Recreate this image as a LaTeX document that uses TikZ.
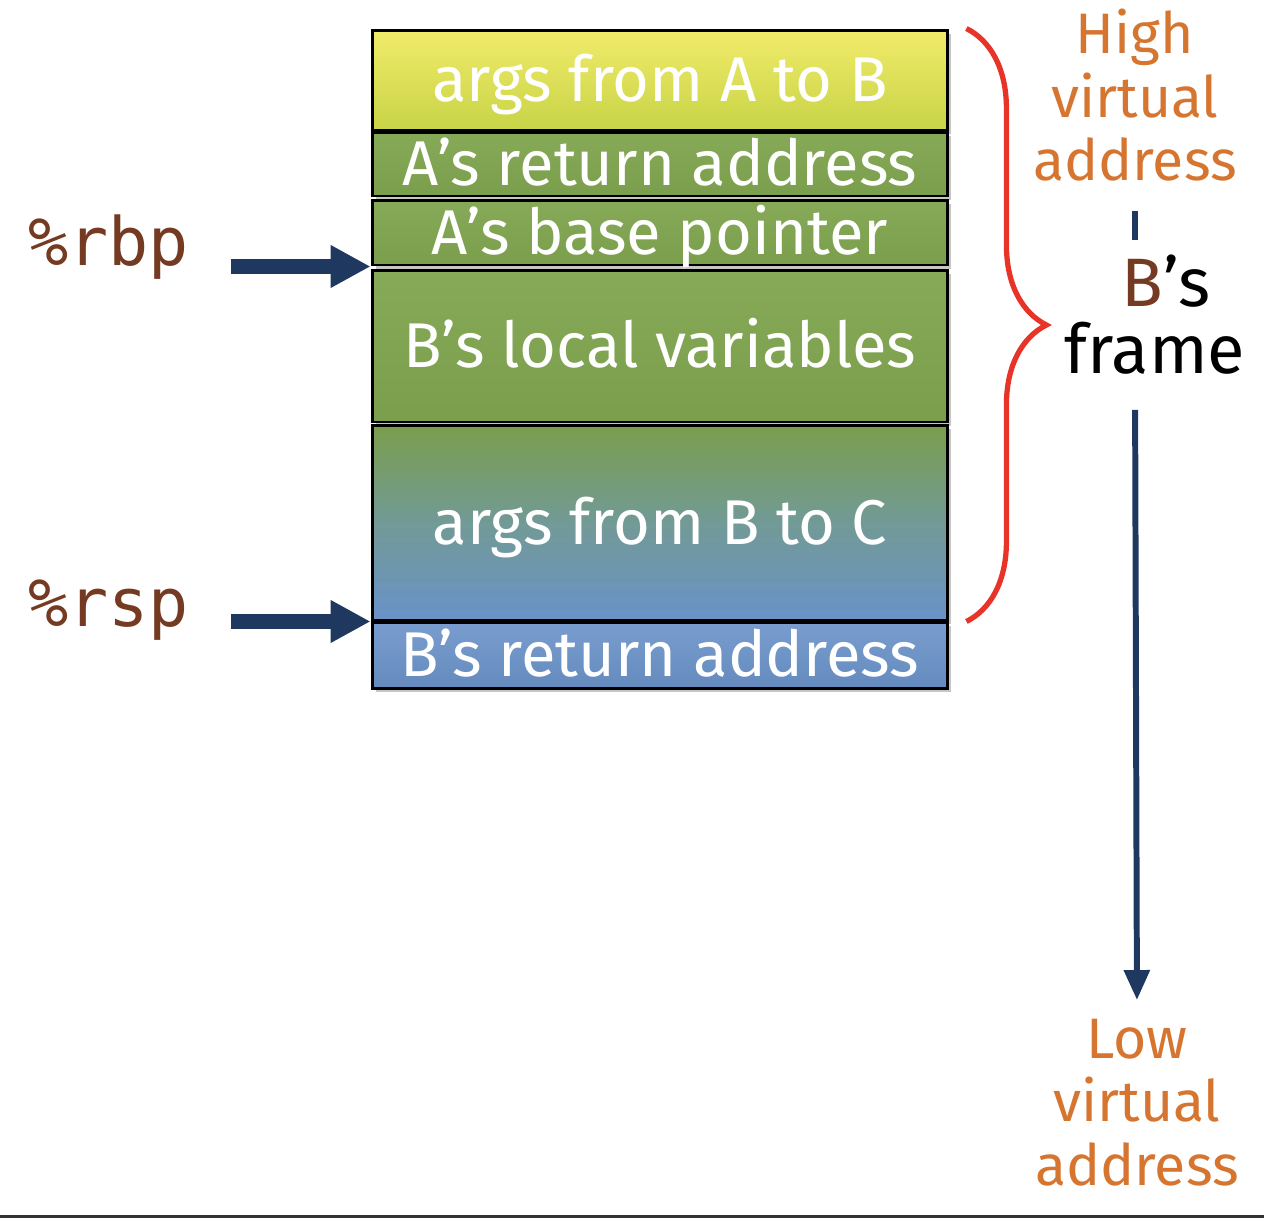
\documentclass[tikz,border=0pt]{standalone}
\usepackage{fontspec}
\setmainfont{Fira Sans}
\setmonofont{DejaVu Sans Mono}
\usepackage{xcolor}
\usetikzlibrary{arrows.meta,positioning,decorations.pathreplacing,shadows}
\definecolor{addrorange}{RGB}{214,117,48}
\definecolor{regbrown}{RGB}{116,58,34}
\definecolor{ptrnavy}{RGB}{31,56,96}
\definecolor{framered}{RGB}{232,52,40}
\definecolor{argyellow}{RGB}{241,235,106}
\definecolor{argyellowdk}{RGB}{200,212,70}
\definecolor{slotgreen}{RGB}{122,158,76}
\definecolor{slotgreenlt}{RGB}{134,170,88}
\definecolor{slotteal}{RGB}{114,154,150}
\definecolor{slotblue}{RGB}{106,146,200}
\definecolor{rulegray}{RGB}{50,50,50}

\begin{document}
\begin{tikzpicture}[x=0.02cm,y=-0.02cm,
  slot/.style={draw=black,line width=1.7pt,minimum width=11.52cm,inner sep=0pt,
    text=white,font=\fontsize{36}{44}\selectfont,text height=24.8pt,text depth=0pt,
    drop shadow={shadow xshift=2pt,shadow yshift=-2.5pt,opacity=0.45}},
  reg/.style={font=\ttfamily\fontsize{38}{44}\selectfont,text=regbrown,inner sep=0pt,anchor=base west},
  ptr/.style={-{Triangle[length=0.8cm,width=0.8cm]},line width=8pt,draw=ptrnavy},
  addr/.style={align=center,inner sep=0pt,anchor=north,text=addrorange,font=\fontsize{32.5}{36}\selectfont},
  growline/.style={line width=3.4pt,draw=ptrnavy},
  bracedec/.style={decorate,decoration={brace,amplitude=1.6cm},line width=3pt,draw=framered}]
\useasboundingbox (0,0) rectangle (1264,1218);
% stack slots
\node[slot,minimum height=2cm,top color=argyellow,bottom color=argyellowdk] (argsab) at (660,80) {args from A to B};
\node[slot,minimum height=1.28cm,top color=slotgreenlt,bottom color=slotgreen] (aret) at (660,164) {A's return address};
\node[slot,minimum height=1.3cm,top color=slotgreenlt,bottom color=slotgreen] (abase) at (660,232.5) {A's base pointer};
\node[slot,minimum height=3.04cm,top color=slotgreenlt,bottom color=slotgreen] (blocal) at (660,346) {B's local variables};
\node[slot,minimum height=3.9cm,top color=slotgreen,bottom color=slotblue,middle color=slotteal] (argsbc) at (660,522.5) {args from B to C};
\node[slot,minimum height=1.32cm,top color=slotblue!90!white,bottom color=slotblue!95!black] (bret) at (660,655) {B's return address};
% registers
\node[reg] (rbp) at (28,265) {\%rbp};
\node[reg] (rsp) at (28,626) {\%rsp};
\draw[ptr,shorten <=0.84cm] (rbp.east |- abase.south west) -- (abase.south west);
\draw[ptr,shorten <=0.84cm] (rsp.east |- argsbc.south west) -- (argsbc.south west);
% frame brace
\draw[bracedec] ([xshift=0.34cm]argsab.north east) -- ([xshift=0.34cm]argsbc.south east);
% address direction
\node[addr] (high) at (1135,9) {High\\virtual\\address};
\node[align=center,inner sep=0pt,anchor=north,font=\fontsize{39}{38}\selectfont] (frame) at (1155,255)
  {\hspace*{0.44cm}\textcolor{regbrown}{B}'s\\frame};
\node[addr] (low) at (1137,1019) {Low\\virtual\\address};
\draw[growline,shorten <=0.6cm,shorten >=0.3cm] (high.south) -- (high.south |- frame.north);
\draw[growline,-{Triangle[length=0.6cm,width=0.5cm]},shorten <=0.7cm,shorten >=0.38cm]
  (high.south |- frame.south) -- (low.north);
% slide edge
\draw[rulegray,line width=1.7pt] (0,1216) -- (1264,1216);
\end{tikzpicture}
\end{document}
